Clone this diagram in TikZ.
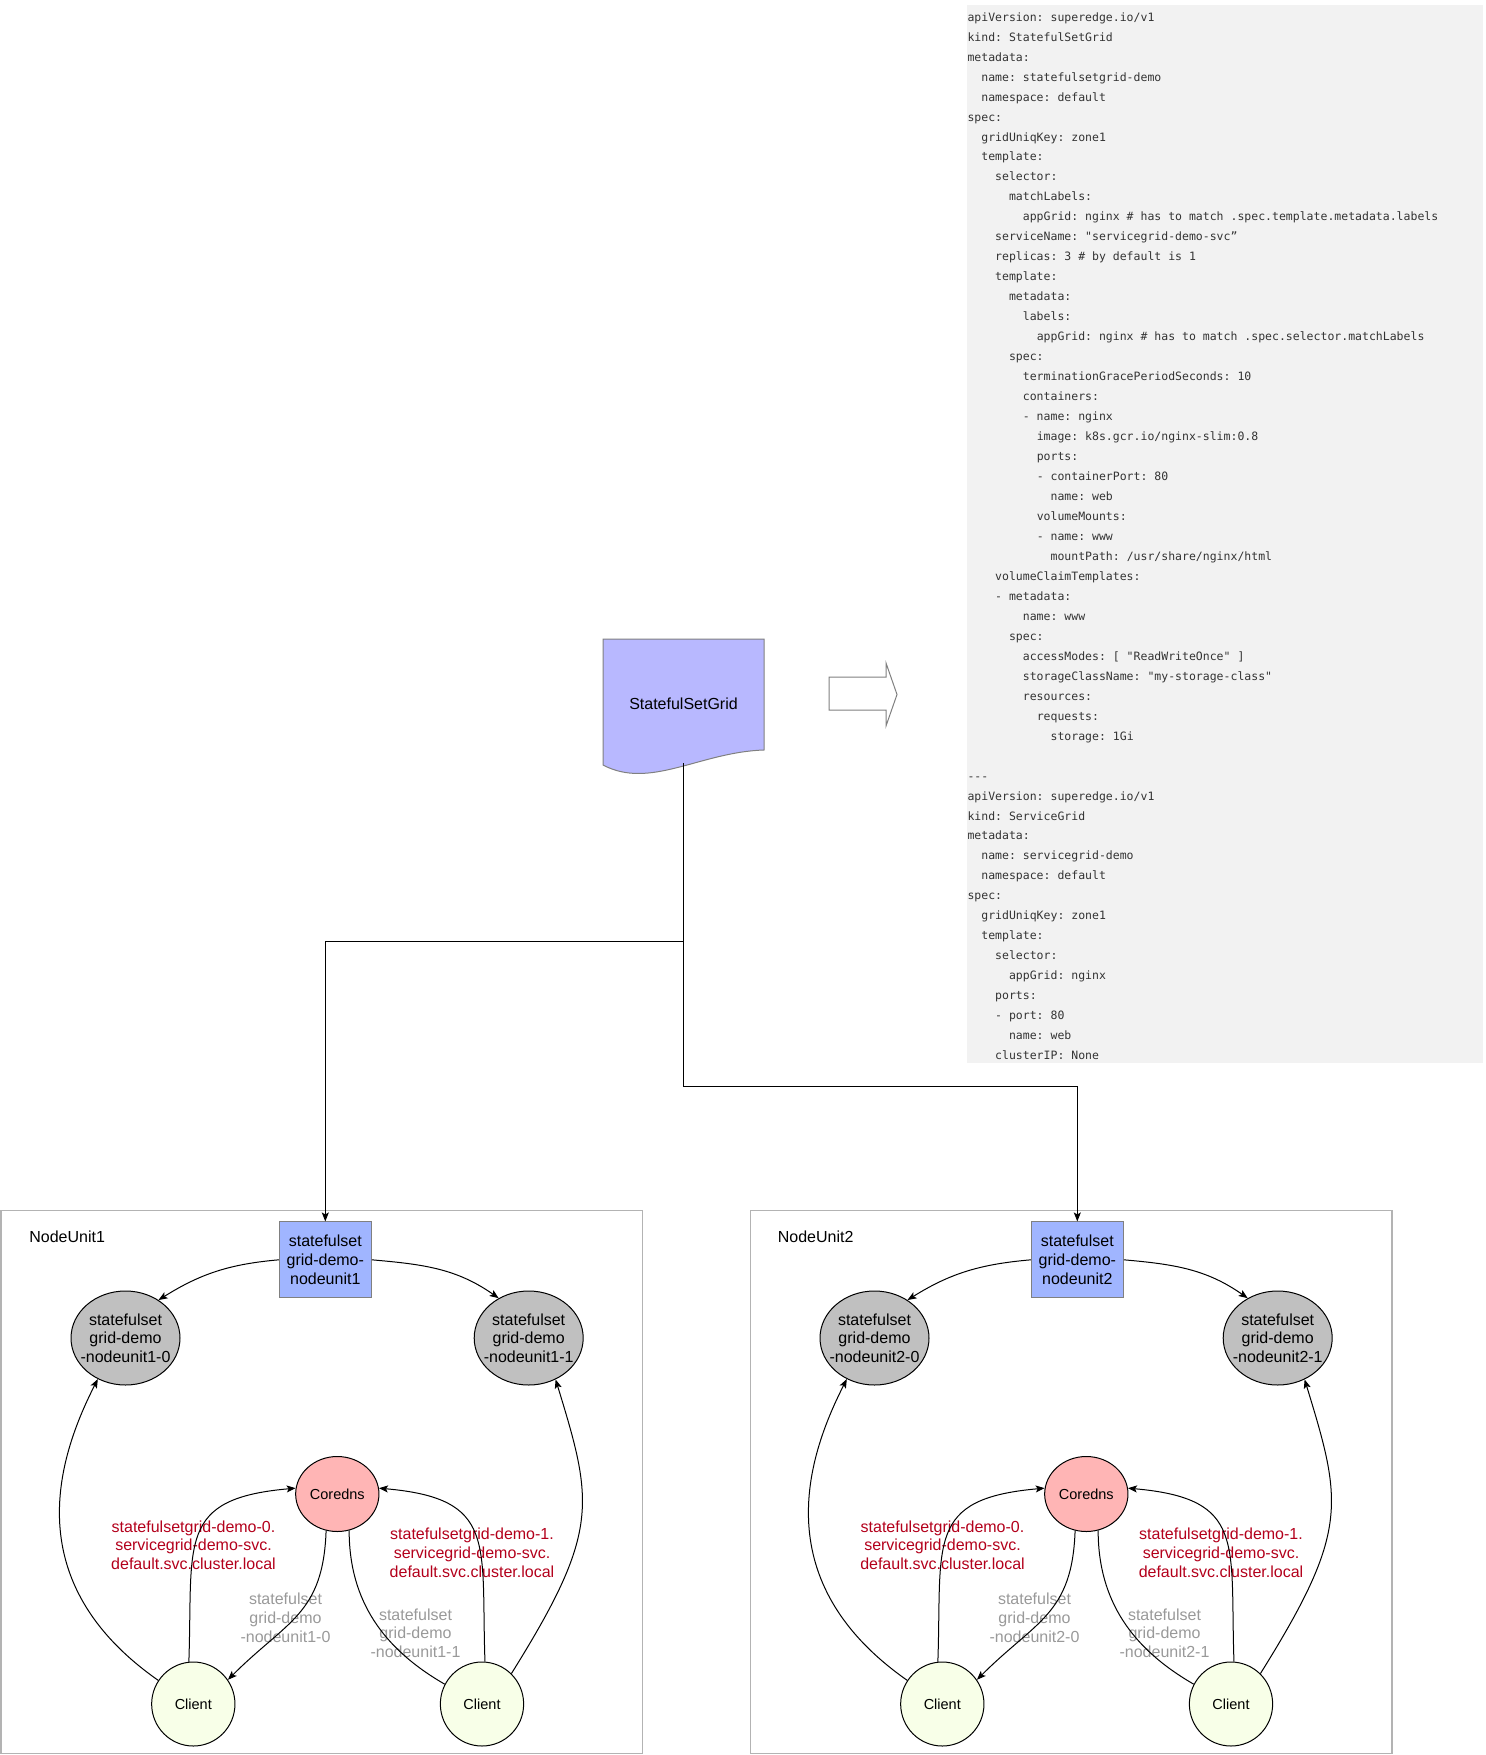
\documentclass[tikz,border=0pt]{standalone}
\usepackage{fontspec}
\setmainfont{Liberation Sans}
\setmonofont{DejaVu Sans Mono}
\usetikzlibrary{shapes.geometric}
\usetikzlibrary{arrows.meta}
\definecolor{docblue}{HTML}{B8B8FF}
\definecolor{setblue}{HTML}{A0B5FF}
\definecolor{podgray}{HTML}{C0C0C0}
\definecolor{dnsred}{HTML}{FFB5B5}
\definecolor{clientgreen}{HTML}{F8FFE8}
\definecolor{codebg}{HTML}{F2F2F2}
\definecolor{codefg}{HTML}{333333}
\definecolor{hostred}{HTML}{B3001B}
\definecolor{podtext}{HTML}{999999}
\definecolor{unitline}{HTML}{B3B3B3}
\newcommand{\yind}[1]{\hspace*{#1\fontcharwd\font32}}
\tikzset{nodeunit/.style={rectangle, draw=unitline, line width=1.3pt, minimum width=641.6pt, minimum height=542.6pt, inner sep=0pt}}
\tikzset{gridset/.style={rectangle, draw=gray, fill=setblue, minimum width=92pt, minimum height=75.7pt, inner sep=0pt, align=center}}
\tikzset{pod/.style={ellipse, draw, fill=podgray, minimum width=109pt, minimum height=94pt, inner sep=0pt}}
\tikzset{dns/.style={ellipse, draw, fill=dnsred, minimum width=83.3pt, minimum height=75pt, inner sep=0pt, font=\fontsize{14.5}{17}\selectfont}}
\tikzset{cli/.style={ellipse, draw, fill=clientgreen, minimum width=83.3pt, minimum height=84pt, inner sep=0pt, font=\fontsize{14.5}{17}\selectfont}}
\tikzset{host/.style={align=center, text=hostred, inner sep=0pt}}
\tikzset{podname/.style={align=center, text=podtext, inner sep=0pt}}
\tikzset{flow/.style={-{Stealth[length=9pt, width=7pt, inset=2pt]}}}
\tikzset{docpage/.style={draw=gray, fill=docblue}}
\tikzset{bigarrow/.style={draw=gray, fill=white}}
\tikzset{yamlbox/.style={rectangle, fill=codebg, minimum width=516pt, minimum height=1057.7pt, inner sep=0pt}}
\tikzset{yamlcode/.style={align=left, inner sep=0pt, text=codefg, font=\ttfamily\fontsize{11.5}{19.97}\selectfont}}

\begin{document}
\begin{tikzpicture}[x=1pt, y=1pt, line width=1pt, font=\fontsize{16}{18.7}\selectfont]

    \useasboundingbox (0,0) rectangle (1485,-1755);

    \node[yamlbox, anchor=north west] (yaml) at (966,-5) {};
    \node[yamlcode, anchor=north west] (yamltext) at (967,-11.96) {%
apiVersion: superedge.io/v1\\
kind: StatefulSetGrid\\
metadata:\\
\yind{2}name: statefulsetgrid-demo\\
\yind{2}namespace: default\\
spec:\\
\yind{2}gridUniqKey: zone1\\
\yind{2}template:\\
\yind{4}selector:\\
\yind{6}matchLabels:\\
\yind{8}appGrid: nginx \# has to match .spec.template.metadata.labels\\
\yind{4}serviceName: "servicegrid-demo-svc”\\
\yind{4}replicas: 3 \# by default is 1\\
\yind{4}template:\\
\yind{6}metadata:\\
\yind{8}labels:\\
\yind{10}appGrid: nginx \# has to match .spec.selector.matchLabels\\
\yind{6}spec:\\
\yind{8}terminationGracePeriodSeconds: 10\\
\yind{8}containers:\\
\yind{8}- name: nginx\\
\yind{10}image: k8s.gcr.io/nginx-slim:0.8\\
\yind{10}ports:\\
\yind{10}- containerPort: 80\\
\yind{12}name: web\\
\yind{10}volumeMounts:\\
\yind{10}- name: www\\
\yind{12}mountPath: /usr/share/nginx/html\\
\yind{4}volumeClaimTemplates:\\
\yind{4}- metadata:\\
\yind{8}name: www\\
\yind{6}spec:\\
\yind{8}accessModes: [ "ReadWriteOnce" ]\\
\yind{8}storageClassName: "my-storage-class"\\
\yind{8}resources:\\
\yind{10}requests:\\
\yind{12}storage: 1Gi\\
\mbox{}\\
---\\
apiVersion: superedge.io/v1\\
kind: ServiceGrid\\
metadata:\\
\yind{2}name: servicegrid-demo\\
\yind{2}namespace: default\\
spec:\\
\yind{2}gridUniqKey: zone1\\
\yind{2}template:\\
\yind{4}selector:\\
\yind{6}appGrid: nginx\\
\yind{4}ports:\\
\yind{4}- port: 80\\
\yind{6}name: web\\
\yind{4}clusterIP: None};

    \draw[docpage] (603,-639) -- (764,-639) -- (764,-750) .. controls (700,-752) and (650,-790) .. (603,-765) -- cycle;
    \node (ssg) at (683.5,-703.5) {StatefulSetGrid};
    \coordinate (ssgfoot) at (683.3,-763);
    \draw[bigarrow] (829,-677) -- (886,-677) -- (886,-663) -- (897,-694.5) -- (886,-726) -- (886,-710) -- (829,-710) -- cycle;

    \node[nodeunit] (nu1) at (321.9,-1482) {};
    \node[anchor=west] (nu1name) at (25.5,-1237) {NodeUnit1};
    \node[gridset] (sg1) at (325.3,-1259.8) {statefulset\\grid-demo-\\nodeunit1};
    \node[pod, label={[align=center]center:statefulset\\grid-demo\\-nodeunit1-0}] (pod10) at (125.5,-1338) {};
    \node[pod, label={[align=center]center:statefulset\\grid-demo\\-nodeunit1-1}] (pod11) at (528.7,-1338) {};
    \node[dns] (dns1) at (337.3,-1494) {Coredns};
    \node[cli] (cli10) at (193.3,-1704) {Client};
    \node[cli] (cli11) at (482,-1704) {Client};
    \node[host] (host10) at (193.5,-1545) {statefulsetgrid-demo-0.\\servicegrid-demo-svc.\\default.svc.cluster.local};
    \node[host] (host11) at (472,-1552.7) {statefulsetgrid-demo-1.\\servicegrid-demo-svc.\\default.svc.cluster.local};
    \node[podname] (ans10) at (285.5,-1617.7) {statefulset\\grid-demo\\-nodeunit1-0};
    \node[podname] (ans11) at (415.5,-1633) {statefulset\\grid-demo\\-nodeunit1-1};

    \node[nodeunit] (nu2) at (1071.2,-1482) {};
    \node[anchor=west] (nu2name) at (774,-1237) {NodeUnit2};
    \node[gridset] (sg2) at (1077.3,-1259.8) {statefulset\\grid-demo-\\nodeunit2};
    \node[pod, label={[align=center]center:statefulset\\grid-demo\\-nodeunit2-0}] (pod20) at (874.5,-1338) {};
    \node[pod, label={[align=center]center:statefulset\\grid-demo\\-nodeunit2-1}] (pod21) at (1277.7,-1338) {};
    \node[dns] (dns2) at (1086.3,-1494) {Coredns};
    \node[cli] (cli20) at (942.3,-1704) {Client};
    \node[cli] (cli21) at (1231,-1704) {Client};
    \node[host] (host20) at (942.5,-1545) {statefulsetgrid-demo-0.\\servicegrid-demo-svc.\\default.svc.cluster.local};
    \node[host] (host21) at (1221,-1552.7) {statefulsetgrid-demo-1.\\servicegrid-demo-svc.\\default.svc.cluster.local};
    \node[podname] (ans20) at (1034.5,-1617.7) {statefulset\\grid-demo\\-nodeunit2-0};
    \node[podname] (ans21) at (1164.5,-1633) {statefulset\\grid-demo\\-nodeunit2-1};

    \coordinate (fork1) at (683.3,-941);
    \coordinate (fork2) at (683.3,-1086.7);
    \draw[flow] (ssgfoot) -- (fork1) -| (sg1);
    \draw[flow] (ssgfoot) -- (fork2) -| (sg2);

    \draw[flow] (sg1.west) to[out=185, in=32] (pod10.49);
    \draw[flow] (sg1.east) to[out=-5, in=145] (pod11.127);
    \draw[flow] (cli10.146) to[out=145, in=243, out distance=170pt, in distance=92pt] (pod10.236);
    \draw[flow] (cli10.96) to[out=88, in=185, looseness=1.5] (dns1.172);
    \draw[flow] (dns1.253) to[out=268, in=45, looseness=1.2] (cli10.35);
    \draw (dns1.288) to[out=270, in=150] (cli11.152);
    \draw[flow] (cli11.86) to[out=92, in=-5, looseness=1.5] (dns1.8);
    \draw[flow] (cli11.46) to[out=58, in=287, out distance=168pt, in distance=129pt] (pod11.303);

    \draw[flow] (sg2.west) to[out=185, in=32] (pod20.49);
    \draw[flow] (sg2.east) to[out=-5, in=145] (pod21.127);
    \draw[flow] (cli20.146) to[out=145, in=243, out distance=170pt, in distance=92pt] (pod20.236);
    \draw[flow] (cli20.96) to[out=88, in=185, looseness=1.5] (dns2.172);
    \draw[flow] (dns2.253) to[out=268, in=45, looseness=1.2] (cli20.35);
    \draw (dns2.288) to[out=270, in=150] (cli21.152);
    \draw[flow] (cli21.86) to[out=92, in=-5, looseness=1.5] (dns2.8);
    \draw[flow] (cli21.46) to[out=58, in=287, out distance=168pt, in distance=129pt] (pod21.303);

\end{tikzpicture}
\end{document}
